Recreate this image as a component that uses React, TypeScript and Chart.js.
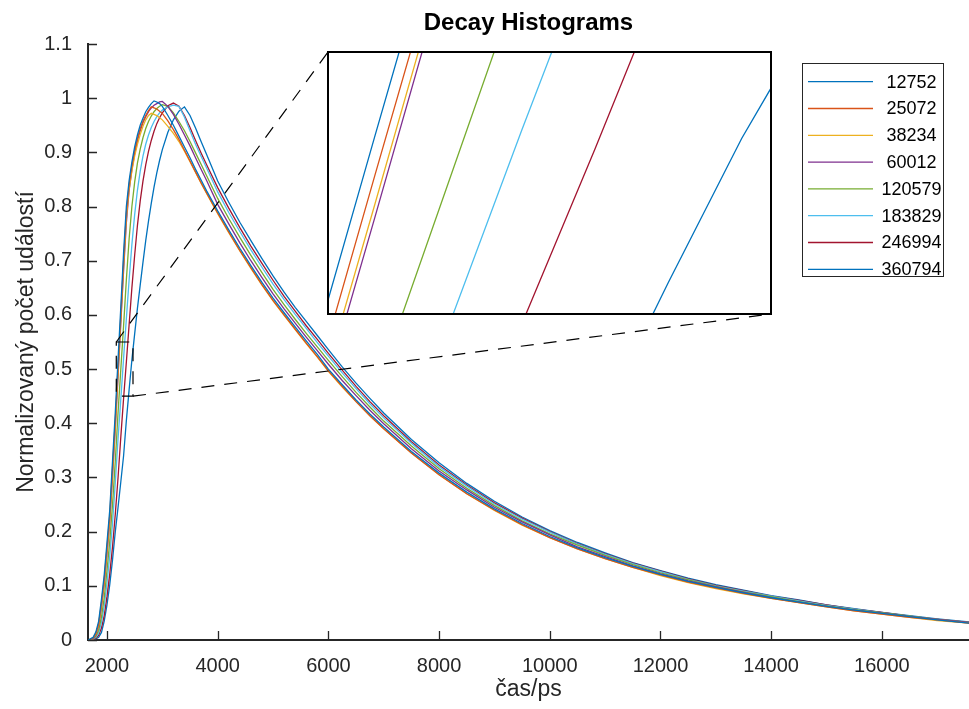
import React, { useEffect, useRef } from 'react';
import { Chart, registerables } from 'chart.js';

Chart.register(...registerables);

// ---------------- data ----------------
const timePs = [
  1650, 1700, 1750, 1800, 1850, 1900, 1950, 2000, 2050, 2100, 2150, 2200, 2250, 2300,
  2350, 2400, 2450, 2500, 2550, 2600, 2650, 2700, 2750, 2800, 2850, 2900, 2950, 3000,
  3100, 3200, 3300, 3400, 3500, 3600, 3700, 3800,
  4000, 4200, 4400, 4600, 4800, 5000, 5200, 5400, 5600, 5800, 6000,
  6250, 6500, 6750, 7000,
  7500, 8000, 8500, 9000, 9500, 10000, 10500, 11000, 11500, 12000, 12500, 13000, 13500,
  14000, 14500, 15000, 15500, 16000, 16500, 17000,
  17600,
];

const counts12752 = [
  0.000, 0.002, 0.005, 0.015, 0.035, 0.075, 0.12, 0.18, 0.24, 0.33, 0.42, 0.518, 0.615, 0.715,
  0.80, 0.848, 0.882, 0.91, 0.932, 0.95, 0.963, 0.975, 0.983, 0.99, 0.995, 0.993, 0.99, 0.985,
  0.968, 0.95, 0.93, 0.91, 0.89, 0.869, 0.849, 0.829,
  0.792, 0.757, 0.723, 0.691, 0.66, 0.631, 0.604, 0.578, 0.552, 0.527, 0.50,
  0.471, 0.443, 0.417, 0.393,
  0.348, 0.308, 0.273, 0.242, 0.215, 0.191, 0.170, 0.152, 0.136, 0.121, 0.108, 0.097, 0.087,
  0.078, 0.070, 0.062, 0.055, 0.049, 0.043, 0.037,
  0.031,
];

const counts25072 = [
  0.000, 0.001, 0.004, 0.012, 0.03, 0.068, 0.112, 0.17, 0.23, 0.318, 0.405, 0.503, 0.60, 0.70,
  0.788, 0.84, 0.875, 0.903, 0.925, 0.943, 0.957, 0.968, 0.977, 0.984, 0.982, 0.98, 0.976, 0.972,
  0.958, 0.942, 0.924, 0.904, 0.884, 0.864, 0.844, 0.825,
  0.788, 0.753, 0.719, 0.687, 0.656, 0.627, 0.6, 0.574, 0.548, 0.523, 0.497,
  0.468, 0.44, 0.414, 0.39,
  0.345, 0.305, 0.27, 0.24, 0.213, 0.189, 0.168, 0.15, 0.134, 0.12, 0.107, 0.096, 0.086,
  0.077, 0.069, 0.061, 0.054, 0.048, 0.042, 0.037,
  0.031,
];

const counts38234 = [
  0.000, 0.001, 0.004, 0.011, 0.028, 0.064, 0.107, 0.163, 0.222, 0.308, 0.395, 0.492, 0.59, 0.69,
  0.778, 0.832, 0.866, 0.893, 0.915, 0.933, 0.948, 0.96, 0.968, 0.972, 0.97, 0.968, 0.964, 0.96,
  0.948, 0.935, 0.92, 0.902, 0.883, 0.863, 0.843, 0.824,
  0.787, 0.752, 0.718, 0.686, 0.655, 0.626, 0.599, 0.573, 0.547, 0.522, 0.496,
  0.467, 0.44, 0.414, 0.39,
  0.345, 0.305, 0.27, 0.239, 0.212, 0.189, 0.168, 0.15, 0.134, 0.119, 0.106, 0.095, 0.085,
  0.077, 0.069, 0.061, 0.054, 0.048, 0.042, 0.036,
  0.031,
];

const counts60012 = [
  0.000, 0.001, 0.003, 0.010, 0.026, 0.06, 0.103, 0.158, 0.218, 0.302, 0.39, 0.487, 0.585, 0.682,
  0.77, 0.83, 0.868, 0.898, 0.922, 0.94, 0.955, 0.966, 0.975, 0.982, 0.987, 0.99, 0.993, 0.994,
  0.985, 0.97, 0.952, 0.932, 0.912, 0.89, 0.869, 0.848,
  0.804, 0.768, 0.733, 0.70, 0.669, 0.639, 0.611, 0.585, 0.559, 0.534, 0.509,
  0.479, 0.451, 0.424, 0.399,
  0.353, 0.312, 0.277, 0.245, 0.218, 0.194, 0.172, 0.154, 0.137, 0.122, 0.109, 0.098, 0.088,
  0.078, 0.07, 0.062, 0.055, 0.049, 0.043, 0.038,
  0.032,
];

const counts120579 = [
  0.000, 0.001, 0.002, 0.007, 0.018, 0.042, 0.078, 0.128, 0.182, 0.25, 0.33, 0.42, 0.5, 0.58,
  0.665, 0.74, 0.8, 0.845, 0.88, 0.906, 0.927, 0.944, 0.957, 0.967, 0.975, 0.981, 0.985, 0.988,
  0.985, 0.973, 0.957, 0.94, 0.92, 0.899, 0.878, 0.857,
  0.815, 0.778, 0.743, 0.71, 0.678, 0.647, 0.619, 0.592, 0.566, 0.541, 0.516,
  0.486, 0.457, 0.43, 0.404,
  0.358, 0.316, 0.28, 0.248, 0.22, 0.196, 0.175, 0.156, 0.139, 0.124, 0.111, 0.099, 0.089,
  0.08, 0.071, 0.063, 0.056, 0.05, 0.044, 0.038,
  0.032,
];

const counts183829 = [
  0.000, 0.000, 0.002, 0.005, 0.013, 0.032, 0.062, 0.105, 0.155, 0.215, 0.29, 0.372, 0.445, 0.52,
  0.593, 0.665, 0.73, 0.785, 0.83, 0.865, 0.893, 0.915, 0.932, 0.946, 0.957, 0.966, 0.973, 0.978,
  0.984, 0.987, 0.985, 0.965, 0.94, 0.915, 0.893, 0.871,
  0.827, 0.789, 0.754, 0.72, 0.688, 0.657, 0.628, 0.601, 0.575, 0.549, 0.524,
  0.493, 0.464, 0.436, 0.41,
  0.363, 0.32, 0.284, 0.251, 0.223, 0.199, 0.177, 0.158, 0.141, 0.126, 0.112, 0.1, 0.09,
  0.081, 0.072, 0.064, 0.057, 0.05, 0.044, 0.038,
  0.032,
];

const counts246994 = [
  0.000, 0.000, 0.001, 0.003, 0.009, 0.022, 0.045, 0.08, 0.122, 0.172, 0.232, 0.3, 0.375, 0.446,
  0.513, 0.582, 0.65, 0.71, 0.765, 0.81, 0.847, 0.877, 0.902, 0.922, 0.939, 0.953, 0.964, 0.973,
  0.986, 0.991, 0.985, 0.968, 0.946, 0.922, 0.899, 0.877,
  0.835, 0.797, 0.761, 0.727, 0.695, 0.664, 0.634, 0.607, 0.58, 0.555, 0.529,
  0.498, 0.468, 0.44, 0.414,
  0.366, 0.323, 0.286, 0.253, 0.225, 0.2, 0.178, 0.159, 0.142, 0.127, 0.113, 0.101, 0.091,
  0.081, 0.073, 0.065, 0.057, 0.051, 0.044, 0.038,
  0.032,
];

const counts360794 = [
  0.000, 0.000, 0.001, 0.002, 0.005, 0.014, 0.035, 0.065, 0.102, 0.148, 0.2, 0.245, 0.292, 0.34,
  0.405, 0.462, 0.517, 0.565, 0.612, 0.655, 0.697, 0.737, 0.773, 0.806, 0.836, 0.862, 0.885, 0.905,
  0.937, 0.96, 0.976, 0.984, 0.968, 0.945, 0.92, 0.896,
  0.847, 0.808, 0.771, 0.737, 0.704, 0.672, 0.642, 0.614, 0.588, 0.562, 0.536,
  0.504, 0.474, 0.446, 0.419,
  0.37, 0.327, 0.289, 0.256, 0.227, 0.202, 0.18, 0.161, 0.143, 0.128, 0.114, 0.102, 0.092,
  0.082, 0.074, 0.065, 0.058, 0.051, 0.045, 0.039,
  0.033,
];

const seriesLabels = ['12752', '25072', '38234', '60012', '120579', '183829', '246994', '360794'];
const seriesValues = [
  counts12752, counts25072, counts38234, counts60012,
  counts120579, counts183829, counts246994, counts360794,
];

const xTickValues = [2000, 4000, 6000, 8000, 10000, 12000, 14000, 16000];
const yTickValues = [0, 0.1, 0.2, 0.3, 0.4, 0.5, 0.6, 0.7, 0.8, 0.9, 1, 1.1];
const xRange = [1657, 17574];
const yRange = [0, 1.1];
const zoomXRange = [2168, 2470];
const zoomYRange = [0.45, 0.55];

// ---------------- styles / layout ----------------
const COLORS = ['#0072BD', '#D95319', '#EDB120', '#7E2F8E', '#77AC30', '#4DBEEE', '#A2142F', '#0072BD'];
const FONT = "'Liberation Sans', Arial, Helvetica, sans-serif";
const AXIS = '#262626';
const W = 969;
const H = 709;
const INSET = { left: 327, top: 51, width: 445, height: 264 };
const LEGEND = { left: 802.5, top: 63.5, right: 943.5, bottom: 276.5, firstRow: 81.7, rowGap: 26.8 };

function makeDatasets(lineWidth: number) {
  return seriesValues.map((vals, i) => ({
    label: seriesLabels[i],
    data: timePs.map((t, j) => ({ x: t, y: vals[j] })),
    borderColor: COLORS[i],
    backgroundColor: COLORS[i],
    borderWidth: lineWidth,
    pointRadius: 0,
    pointHoverRadius: 0,
    fill: false,
    tension: 0,
  }));
}

const mainDecor = {
  id: 'mainDecor',
  afterDatasetsDraw(chart: any) {
    const ctx = chart.ctx;
    const xs = chart.scales.x;
    const ys = chart.scales.y;
    const area = chart.chartArea;
    ctx.save();
    // inward tick marks
    ctx.strokeStyle = AXIS;
    ctx.lineWidth = 1.3;
    ctx.beginPath();
    xTickValues.forEach((v) => {
      const px = Math.round(xs.getPixelForValue(v)) + 0.5;
      ctx.moveTo(px, area.bottom);
      ctx.lineTo(px, area.bottom - 9);
    });
    yTickValues.forEach((v) => {
      const py = Math.round(ys.getPixelForValue(v)) + 0.5;
      ctx.moveTo(area.left, py);
      ctx.lineTo(area.left + 9, py);
    });
    ctx.stroke();

    // zoom rectangle & connectors
    const zx0 = xs.getPixelForValue(zoomXRange[0]);
    const zx1 = xs.getPixelForValue(zoomXRange[1]);
    const zy0 = ys.getPixelForValue(zoomYRange[1]);
    const zy1 = ys.getPixelForValue(zoomYRange[0]);
    ctx.strokeStyle = '#000';
    ctx.lineWidth = 1.2;
    ctx.setLineDash([13, 10]);
    ctx.beginPath();
    ctx.rect(zx0, zy0, zx1 - zx0, zy1 - zy0);
    ctx.stroke();
    ctx.beginPath();
    ctx.moveTo(zx0, zy0);
    ctx.lineTo(INSET.left + 1, INSET.top + 1);
    ctx.moveTo(zx1, zy1);
    ctx.lineTo(INSET.left + INSET.width - 1, INSET.top + INSET.height - 1);
    ctx.stroke();
    ctx.setLineDash([]);
    ctx.restore();
  },
  afterDraw(chart: any) {
    const ctx = chart.ctx;
    ctx.save();
    ctx.fillStyle = '#fff';
    ctx.fillRect(LEGEND.left, LEGEND.top, LEGEND.right - LEGEND.left, LEGEND.bottom - LEGEND.top);
    ctx.strokeStyle = AXIS;
    ctx.lineWidth = 1;
    ctx.strokeRect(LEGEND.left, LEGEND.top, LEGEND.right - LEGEND.left, LEGEND.bottom - LEGEND.top);
    ctx.font = `18px ${FONT}`;
    ctx.textAlign = 'center';
    ctx.textBaseline = 'middle';
    seriesLabels.forEach((lab, i) => {
      const y = LEGEND.firstRow + i * LEGEND.rowGap;
      ctx.strokeStyle = COLORS[i];
      ctx.lineWidth = 1.3;
      ctx.beginPath();
      ctx.moveTo(808, y);
      ctx.lineTo(873, y);
      ctx.stroke();
      ctx.fillStyle = '#000';
      ctx.fillText(lab, 911.5, y + 1);
    });
    ctx.restore();
  },
};

const insetDecor = {
  id: 'insetDecor',
  beforeDraw(chart: any) {
    const ctx = chart.ctx;
    ctx.save();
    ctx.fillStyle = '#fff';
    ctx.fillRect(0, 0, chart.width, chart.height);
    ctx.restore();
  },
  afterDraw(chart: any) {
    const ctx = chart.ctx;
    const a = chart.chartArea;
    ctx.save();
    ctx.strokeStyle = '#000';
    ctx.lineWidth = 2;
    ctx.strokeRect(a.left, a.top, a.right - a.left, a.bottom - a.top);
    ctx.restore();
  },
};

export default function App() {
  const mainRef = useRef<HTMLCanvasElement | null>(null);
  const insetRef = useRef<HTMLCanvasElement | null>(null);

  useEffect(() => {
    document.body.style.margin = '0';
    const tickFont = { family: FONT, size: 20 };
    const labelFont = { family: FONT, size: 23 };
    const main = new Chart(mainRef.current as HTMLCanvasElement, {
      type: 'line',
      data: { datasets: makeDatasets(1.3) as any },
      options: {
        animation: false,
        responsive: false,
        devicePixelRatio: 1,
        events: [],
        layout: { padding: 0 },
        plugins: {
          legend: { display: false },
          tooltip: { enabled: false },
          title: {
            display: true,
            text: 'Decay Histograms',
            fullSize: false,
            color: '#000',
            font: { family: FONT, size: 24, weight: 'bold' },
            padding: { top: 9, bottom: 6.2 },
          },
        },
        scales: {
          x: {
            type: 'linear',
            min: xRange[0],
            max: xRange[1],
            afterBuildTicks: (s: any) => {
              s.ticks = xTickValues.map((v) => ({ value: v }));
            },
            afterFit: (s: any) => {
              s.height = H - 640;
            },
            grid: { display: false, drawTicks: false },
            border: { display: true, color: AXIS, width: 2 },
            ticks: {
              color: AXIS,
              font: tickFont,
              padding: 14,
              maxRotation: 0,
              autoSkip: false,
              callback: (v: any) => String(v),
            },
            title: {
              display: true,
              text: 'čas/ps',
              color: AXIS,
              font: labelFont,
              padding: { top: 0, bottom: 5.2 },
            },
          },
          y: {
            type: 'linear',
            min: yRange[0],
            max: yRange[1],
            afterBuildTicks: (s: any) => {
              s.ticks = yTickValues.map((v) => ({ value: v }));
            },
            afterFit: (s: any) => {
              s.width = 88;
            },
            grid: { display: false, drawTicks: false },
            border: { display: true, color: AXIS, width: 2 },
            ticks: {
              color: AXIS,
              font: tickFont,
              padding: 16,
              autoSkip: false,
              callback: (v: any) => String(v),
            },
            title: {
              display: true,
              text: 'Normalizovaný počet událostí',
              color: AXIS,
              font: labelFont,
              padding: { top: 13, bottom: 0 },
            },
          },
        },
      } as any,
      plugins: [mainDecor],
    });

    const inset = new Chart(insetRef.current as HTMLCanvasElement, {
      type: 'line',
      data: { datasets: makeDatasets(1.3) as any },
      options: {
        animation: false,
        responsive: false,
        devicePixelRatio: 1,
        events: [],
        layout: { padding: 1 },
        plugins: { legend: { display: false }, tooltip: { enabled: false }, title: { display: false } },
        scales: {
          x: { type: 'linear', min: zoomXRange[0], max: zoomXRange[1], display: false },
          y: { type: 'linear', min: zoomYRange[0], max: zoomYRange[1], display: false },
        },
      } as any,
      plugins: [insetDecor],
    });

    return () => {
      main.destroy();
      inset.destroy();
    };
  }, []);

  return (
    <div style={{ position: 'absolute', left: 0, top: 0, width: W, height: H, background: '#fff' }}>
      <canvas ref={mainRef} width={W} height={H} style={{ position: 'absolute', left: 0, top: 0 }} />
      <canvas
        ref={insetRef}
        width={INSET.width}
        height={INSET.height}
        style={{ position: 'absolute', left: INSET.left, top: INSET.top }}
      />
    </div>
  );
}
